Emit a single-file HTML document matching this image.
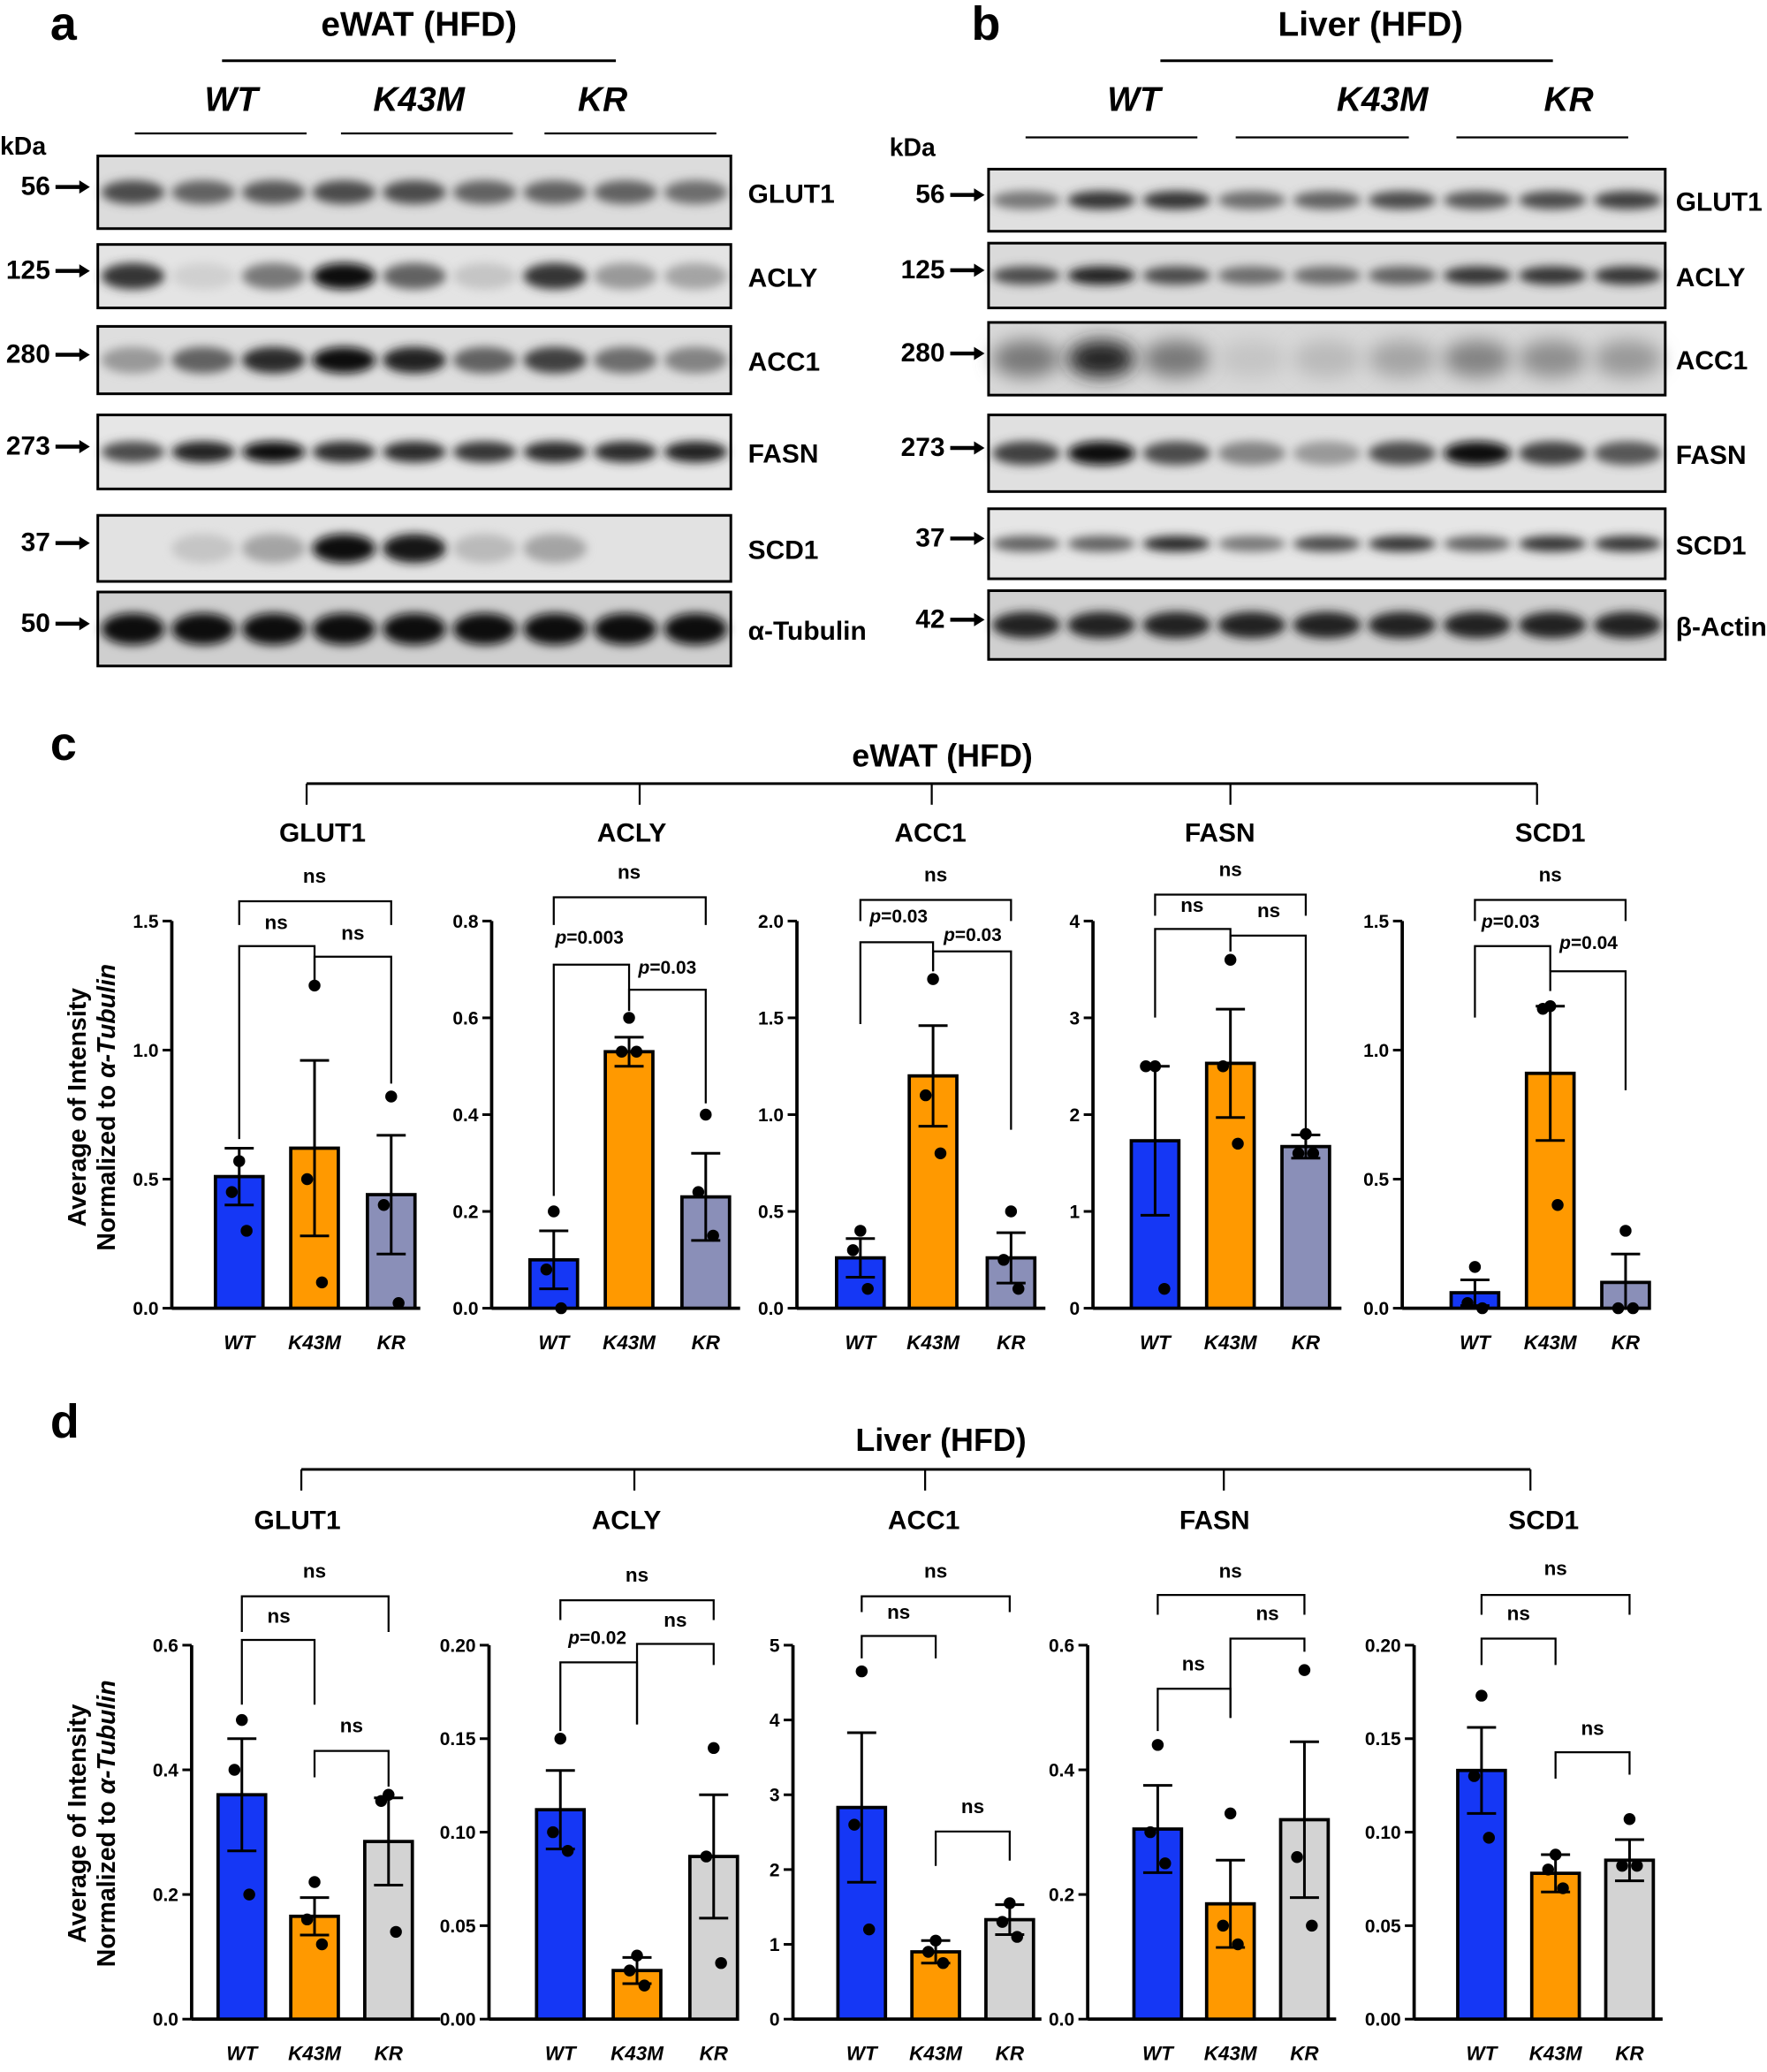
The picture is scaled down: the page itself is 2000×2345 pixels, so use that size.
<!DOCTYPE html>
<html><head><meta charset="utf-8">
<style>
html,body{margin:0;padding:0;background:#fff;}
svg{display:block;}
text{font-family:"Liberation Sans",Arial,sans-serif;fill:#000;}
</style></head>
<body>
<svg id="s" xmlns="http://www.w3.org/2000/svg" width="2000" height="2345" viewBox="0 0 1337 1568" preserveAspectRatio="none">
<defs>
<filter id="bl" x="-50%" y="-100%" width="200%" height="300%"><feGaussianBlur stdDeviation="3.5"/></filter>
<filter id="bl2" x="-50%" y="-100%" width="200%" height="300%"><feGaussianBlur stdDeviation="7"/></filter>
</defs>
<rect width="1337" height="1568" fill="#fff"/>
<!-- panel a -->
<text x="38" y="30" font-size="36" font-weight="bold">a</text>
<text x="317" y="27" font-size="26" font-weight="bold" text-anchor="middle">eWAT (HFD)</text>
<line x1="168" y1="46" x2="466" y2="46" stroke="#000" stroke-width="2"/>
<text x="175" y="84" font-size="26" font-weight="bold" font-style="italic" text-anchor="middle">WT</text>
<text x="317" y="84" font-size="26" font-weight="bold" font-style="italic" text-anchor="middle">K43M</text>
<text x="456" y="84" font-size="26" font-weight="bold" font-style="italic" text-anchor="middle">KR</text>
<line x1="102" y1="101" x2="232" y2="101" stroke="#000" stroke-width="1.5"/>
<line x1="258" y1="101" x2="388" y2="101" stroke="#000" stroke-width="1.5"/>
<line x1="412" y1="101" x2="542" y2="101" stroke="#000" stroke-width="1.5"/>
<text x="0" y="117" font-size="19" font-weight="bold">kDa</text>
<!-- panel b -->
<text x="735" y="30" font-size="36" font-weight="bold">b</text>
<text x="1037" y="27" font-size="26" font-weight="bold" text-anchor="middle">Liver (HFD)</text>
<line x1="878" y1="46" x2="1175" y2="46" stroke="#000" stroke-width="2"/>
<text x="858" y="84" font-size="26" font-weight="bold" font-style="italic" text-anchor="middle">WT</text>
<text x="1046" y="84" font-size="26" font-weight="bold" font-style="italic" text-anchor="middle">K43M</text>
<text x="1187" y="84" font-size="26" font-weight="bold" font-style="italic" text-anchor="middle">KR</text>
<line x1="776" y1="104" x2="906" y2="104" stroke="#000" stroke-width="1.5"/>
<line x1="935" y1="104" x2="1066" y2="104" stroke="#000" stroke-width="1.5"/>
<line x1="1102" y1="104" x2="1232" y2="104" stroke="#000" stroke-width="1.5"/>
<text x="673" y="118" font-size="19" font-weight="bold">kDa</text>
<!-- panel c/d headers -->
<text x="38" y="575" font-size="36" font-weight="bold">c</text>
<text x="713" y="580" font-size="24" font-weight="bold" text-anchor="middle">eWAT (HFD)</text>
<text x="38" y="1088" font-size="36" font-weight="bold">d</text>
<text x="712" y="1098" font-size="24" font-weight="bold" text-anchor="middle">Liver (HFD)</text>
<g id="g"></g>
</svg>
<script>
var g=document.getElementById('g'),NS='http://www.w3.org/2000/svg';
function el(t,a,txt){var e=document.createElementNS(NS,t);for(var k in a)e.setAttribute(k,a[k]);if(txt!=null)e.textContent=txt;g.appendChild(e);return e;}
function tx(x,y,s,o){o=o||{};var a={x:x,y:y,'font-size':o.fs||18,'font-weight':o.fw||'bold','text-anchor':o.a||'start'};if(o.it)a['font-style']='italic';if(o.tr)a.transform=o.tr;return el('text',a,s);}
// blots
function blot(x0,x1,y0,y1,bg,ints,h,label,mw,lx,mwx,blur){
 el('rect',{x:x0,y:y0,width:x1-x0,height:y1-y0,fill:bg});
 var n=ints.length,w=(x1-x0)/n,yc=(y0+y1)/2;
 for(var i=0;i<n;i++){var v=ints[i];if(v<=0)continue;var c=Math.round(230-220*v);
  el('ellipse',{cx:x0+(i+.5)*w,cy:yc,rx:w*0.45,ry:h,fill:'rgb('+c+','+c+','+c+')',filter:blur?'url(#bl2)':'url(#bl)'});}
 el('rect',{x:x0,y:y0,width:x1-x0,height:y1-y0,fill:'none',stroke:'#000','stroke-width':2});
 tx(lx,yc+8,label,{fs:20});
 tx(mwx,yc+2,mw,{fs:20,a:'end'});
 el('line',{x1:mwx+4,y1:yc-4,x2:mwx+26,y2:yc-4,stroke:'#000','stroke-width':3});
 el('path',{d:'M'+(mwx+22)+','+(yc-9)+' L'+(mwx+30)+','+(yc-4)+' L'+(mwx+22)+','+(yc+1)+'Z',fill:'#000'});
}
var A=[[118,173,'#dcdcdc',[.7,.6,.65,.7,.7,.6,.6,.6,.55],9,'GLUT1','56'],
[185,233,'#e4e4e4',[.8,.1,.5,1,.6,.15,.8,.35,.3],10,'ACLY','125'],
[247,298,'#dedede',[.35,.6,.85,1,.9,.6,.75,.55,.45],10,'ACC1','280'],
[314,370,'#e6e6e6',[.7,.9,1,.85,.85,.8,.85,.85,.9],8,'FASN','273'],
[390,440,'#e2e2e2',[0,.15,.3,1,.95,.2,.3,0,0],11,'SCD1','37'],
[448,504,'#cfcfcf',[1,1,1,1,1,1,1,1,1],12,'α-Tubulin','50']];
A.forEach(function(r){blot(74,553,r[0],r[1],r[2],r[3],r[4],r[5],r[6],566,38);});
var B=[[128,175,'#e0e0e0',[.5,.8,.8,.55,.6,.7,.65,.7,.75],7,'GLUT1','56',0],
[184,233,'#dadada',[.7,.9,.7,.55,.55,.6,.8,.8,.8],7,'ACLY','125',0],
[244,299,'#d8d8d8',[.5,.9,.5,.15,.2,.3,.45,.4,.35],14,'ACC1','280',1],
[314,372,'#e0e0e0',[.75,1,.7,.45,.35,.7,1,.75,.65],9,'FASN','273',0],
[385,438,'#e6e6e6',[.6,.6,.85,.5,.7,.8,.6,.8,.8],6,'SCD1','37',0],
[447,499,'#d0d0d0',[.9,.9,.9,.9,.9,.9,.9,.9,.9],10,'β-Actin','42',0]];
B.forEach(function(r){blot(748,1260,r[0],r[1],r[2],r[3],r[4],r[5],r[6],1268,715,r[7]);});
// header brackets
function hb(y,y2,xs){el('line',{x1:xs[0],y1:y,x2:xs[xs.length-1],y2:y,stroke:'#000','stroke-width':2});xs.forEach(function(x){el('line',{x1:x,y1:y,x2:x,y2:y2,stroke:'#000','stroke-width':1.5});});}
hb(593,609,[232,484,705,931,1163]);
hb(1112,1128,[228,480,700,926,1158]);
// ylabels
function ylab(cy){tx(65,cy,'Average of Intensity',{fs:19,a:'middle',tr:'rotate(-90 65 '+cy+')'});
 var t=tx(87,cy,'Normalized to ',{fs:19,a:'middle',tr:'rotate(-90 87 '+cy+')'});
 var s=document.createElementNS(NS,'tspan');s.setAttribute('font-style','italic');s.textContent='α-Tubulin';t.appendChild(s);}
ylab(838);ylab(1380);
function plot(p){
 var ax=p.ax,y0=p.y0,yt=p.yt,mx=p.max,sc=function(v){return y0-(v/mx)*(y0-yt);};
 tx(p.tx,p.ty,p.title,{fs:20,a:'middle'});
 el('line',{x1:ax,y1:yt,x2:ax,y2:y0,stroke:'#000','stroke-width':2.5});
 el('line',{x1:ax,y1:y0,x2:ax+188,y2:y0,stroke:'#000','stroke-width':2.5});
 for(var v=0;v<=mx+1e-9;v+=p.step){var y=sc(v);el('line',{x1:ax-7,y1:y,x2:ax,y2:y,stroke:'#000','stroke-width':2});
  tx(ax-10,y+5,v.toFixed(p.dec),{fs:14,a:'end'});}
 var names=['WT','K43M','KR'],cols=['#1537f5','#ff9900',p.kr];
 for(var i=0;i<3;i++){var x=p.bx[i],m=p.m[i],e=p.e[i];
  el('rect',{x:x-18,y:sc(m),width:36,height:y0-sc(m),fill:cols[i],stroke:'#000','stroke-width':2.5});
  el('line',{x1:x,y1:sc(m+e),x2:x,y2:sc(Math.max(m-e,0)),stroke:'#000','stroke-width':2});
  el('line',{x1:x-11,y1:sc(m+e),x2:x+11,y2:sc(m+e),stroke:'#000','stroke-width':2});
  el('line',{x1:x-11,y1:sc(Math.max(m-e,0)),x2:x+11,y2:sc(Math.max(m-e,0)),stroke:'#000','stroke-width':2});
  var off=[-6,6,0];p.pts[i].forEach(function(v,j){el('circle',{cx:x+(j==0?0:(j==1?-7:7))*(p.pts[i][0]==p.pts[i][1]?1:0.8),cy:sc(v),r:4.5,fill:'#000'});});
  tx(x,p.ly,names[i],{fs:15,a:'middle',it:1});}
 p.br.forEach(function(b){var x1=b[0],x2=b[1],y=b[2];
  el('path',{d:'M'+x1+','+b[3]+' L'+x1+','+y+' L'+x2+','+y+' L'+x2+','+b[4],fill:'none',stroke:'#000','stroke-width':1.5});
  var lab=b[5],lx=b[6],ly=b[7];
  if(lab=='ns')tx(lx,ly,'ns',{fs:15,a:'middle'});
  else{var t=tx(lx,ly,'',{fs:14,a:'middle'});var s=document.createElementNS(NS,'tspan');s.setAttribute('font-style','italic');s.textContent='p';t.appendChild(s);t.appendChild(document.createTextNode(lab));}
 });
}
var C=[
{ax:130,max:1.5,step:.5,dec:1,bx:[181,238,296],tx:244,title:'GLUT1',m:[.51,.62,.44],e:[.11,.34,.23],pts:[[.57,.45,.3],[1.25,.5,.1],[.82,.4,.02]],
 br:[[181,296,682,700,700,'ns',238,668],[181,238,716,862,745,'ns',209,703],[238,296,724,745,820,'ns',267,711]]},
{ax:372,max:.8,step:.2,dec:1,bx:[419,476,534],tx:478,title:'ACLY',m:[.10,.53,.23],e:[.06,.03,.09],pts:[[.2,.08,0],[.6,.53,.53],[.4,.24,.15]],
 br:[[419,534,679,700,700,'ns',476,665],[419,476,730,905,765,'=0.003',446,714],[476,534,749,765,835,'=0.03',505,737]]},
{ax:603,max:2,step:.5,dec:1,bx:[651,706,765],tx:704,title:'ACC1',m:[.26,1.2,.26],e:[.1,.26,.13],pts:[[.4,.3,.1],[1.7,1.1,.8],[.5,.25,.1]],
 br:[[651,765,681,697,697,'ns',708,667],[651,706,713,775,735,'=0.03',680,698],[706,765,720,735,855,'=0.03',736,712]]},
{ax:827,max:4,step:1,dec:0,bx:[874,931,988],tx:923,title:'FASN',m:[1.73,2.53,1.67],e:[.77,.56,.12],pts:[[2.5,2.5,.2],[3.6,2.5,1.7],[1.8,1.6,1.6]],
 br:[[874,988,677,693,693,'ns',931,663],[874,931,703,770,720,'ns',902,690],[931,988,708,720,855,'ns',960,694]]},
{ax:1061,max:1.5,step:.5,dec:1,bx:[1116,1173,1230],tx:1173,title:'SCD1',m:[.06,.91,.1],e:[.05,.26,.11],pts:[[.16,.02,0],[1.17,1.16,.4],[.3,0,0]],
 br:[[1116,1230,681,697,697,'ns',1173,667],[1116,1173,716,770,735,'=0.03',1143,702],[1173,1230,735,750,825,'=0.04',1202,718]]}];
C.forEach(function(p){p.y0=990;p.yt=697;p.ty=637;p.ly=1021;p.kr='#8a8fb8';plot(p);});
var D=[
{ax:145,max:.6,step:.2,dec:1,bx:[183,238,294],tx:225,title:'GLUT1',m:[.36,.165,.285],e:[.09,.03,.07],pts:[[.48,.4,.2],[.22,.16,.12],[.36,.35,.14]],
 br:[[183,294,1208,1235,1235,'ns',238,1194],[183,238,1241,1290,1290,'ns',211,1228],[238,294,1325,1345,1352,'ns',266,1311]]},
{ax:370,max:.2,step:.05,dec:2,bx:[424,482,540],tx:474,title:'ACLY',m:[.112,.026,.087],e:[.021,.007,.033],pts:[[.15,.1,.09],[.034,.026,.018],[.145,.087,.03]],
 br:[[424,540,1211,1226,1226,'ns',482,1197],[424,482,1258,1310,1305,'=0.02',452,1244],[482,540,1244,1305,1260,'ns',511,1231]]},
{ax:600,max:5,step:1,dec:0,bx:[652,708,764],tx:699,title:'ACC1',m:[2.83,.9,1.33],e:[1,.15,.2],pts:[[4.65,2.6,1.2],[1.05,.9,.75],[1.55,1.3,1.1]],
 br:[[652,764,1208,1220,1220,'ns',708,1194],[652,708,1238,1255,1255,'ns',680,1225],[708,764,1386,1412,1408,'ns',736,1372]]},
{ax:823,max:.6,step:.2,dec:1,bx:[876,931,987],tx:919,title:'FASN',m:[.305,.185,.32],e:[.07,.07,.125],pts:[[.44,.3,.25],[.33,.15,.12],[.56,.26,.15]],
 br:[[876,987,1207,1222,1222,'ns',931,1194],[876,931,1278,1310,1300,'ns',903,1264],[931,987,1240,1300,1250,'ns',959,1226]]},
{ax:1070,max:.2,step:.05,dec:2,bx:[1121,1177,1233],tx:1168,title:'SCD1',m:[.133,.078,.085],e:[.023,.01,.011],pts:[[.173,.13,.097],[.088,.08,.07],[.107,.082,.082]],
 br:[[1121,1233,1207,1222,1222,'ns',1177,1192],[1121,1177,1240,1260,1260,'ns',1149,1226],[1177,1233,1326,1346,1343,'ns',1205,1313]]}];
D.forEach(function(p){p.y0=1528;p.yt=1245;p.ty=1157;p.ly=1559;p.kr='#d3d3d3';plot(p);});
</script>
</body></html>
